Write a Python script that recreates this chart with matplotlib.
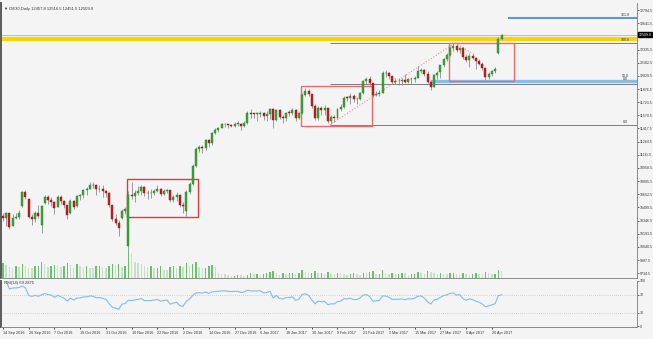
import matplotlib
matplotlib.use("Agg")
import matplotlib.pyplot as plt
import matplotlib.transforms as mtransforms
from matplotlib.patches import Rectangle
import numpy as np
import pandas as pd

plt.rcParams["font.family"] = ["Liberation Sans", "DejaVu Sans"]

# --- data (DE30 daily) ---
holidays = ["2016-10-03", "2016-12-26", "2017-04-14", "2017-04-17"]
dates = pd.bdate_range("2016-09-14", "2017-04-25")
dates = dates[~dates.isin(pd.to_datetime(holidays))]

opens = [
    10400, 10375, 10431, 10290, 10373, 10393, 10520, 10674, 10600, 10394, 10361, 10438, 10300,
    10550, 10619, 10585, 10568, 10510, 10624, 10577, 10523, 10430, 10580, 10520, 10631, 10645, 10701, 10720, 10761, 10757, 10709, 10717, 10690,
    10665, 10526, 10371, 10325, 10380, 10456, 10050, 10650, 10630, 10668, 10694, 10735, 10664, 10663, 10665, 10687, 10713, 10662, 10689, 10700, 10582, 10620,
    10640, 10534, 10460, 10684, 10775, 10986, 11179, 11203, 11190, 11284, 11244, 11366, 11404, 11427, 11464, 11468, 11456, 11449, 11473, 11475, 11451,
    11481, 11599, 11585, 11584, 11585, 11599, 11563, 11583, 11646, 11521, 11629, 11555, 11540, 11599, 11598, 11630, 11545, 11594, 11806, 11848, 11814, 11681,
    11535, 11659, 11627, 11651, 11509, 11549, 11543, 11643, 11666, 11774, 11771, 11793, 11757, 11757, 11827, 11967, 11998, 11947, 11804, 11822,
    11834, 12067, 12060, 12027, 11958, 11966, 11967, 11978, 11963, 11990, 11988, 12009, 12083, 12095, 12052, 11962, 11904, 12040, 12070, 12150, 12225, 12270, 12350,
    12380, 12330, 12350, 12250, 12210, 12260, 12240, 12200, 12170, 12120, 12020, 12050, 12080, 12290, 12457.8,
]
highs = [
    10440, 10450, 10440, 10420, 10440, 10470, 10690, 10700, 10610, 10420, 10460, 10530, 10530,
    10640, 10640, 10620, 10580, 10650, 10650, 10590, 10530, 10600, 10585, 10650, 10660, 10720, 10740, 10800, 10790, 10770, 10760, 10760, 10700,
    10680, 10530, 10420, 10350, 10480, 10510, 10690, 10800, 10700, 10750, 10760, 10750, 10700, 10720, 10720, 10760, 10730, 10710, 10720, 10700, 10650, 10680,
    10660, 10560, 10700, 10790, 11000, 11200, 11220, 11220, 11300, 11300, 11380, 11420, 11440, 11480, 11480, 11470, 11470, 11490, 11500, 11480, 11500,
    11620, 11640, 11600, 11610, 11620, 11610, 11620, 11660, 11660, 11640, 11640, 11580, 11610, 11630, 11650, 11640, 11610, 11830, 11890, 11880, 11820, 11700,
    11680, 11680, 11690, 11660, 11570, 11580, 11660, 11700, 11790, 11790, 11830, 11820, 11780, 11840, 11980, 12020, 12030, 11950, 11850, 11870,
    12090, 12100, 12070, 12030, 12000, 12000, 12010, 12050, 12010, 12020, 12030, 12140, 12120, 12110, 12090, 11970, 12050, 12080, 12160, 12240, 12290, 12380, 12410,
    12405, 12370, 12360, 12280, 12290, 12290, 12250, 12230, 12190, 12130, 12070, 12100, 12130, 12480, 12516.5,
]
lows = [
    10340, 10280, 10250, 10280, 10360, 10360, 10500, 10600, 10380, 10300, 10330, 10380, 10200,
    10540, 10540, 10520, 10420, 10500, 10540, 10490, 10370, 10420, 10480, 10510, 10590, 10610, 10650, 10710, 10730, 10640, 10680, 10620, 10620,
    10500, 10340, 10300, 10170, 10370, 10420, 9990, 10600, 10560, 10640, 10650, 10630, 10600, 10610, 10640, 10680, 10630, 10640, 10670, 10560, 10560, 10580,
    10500, 10440, 10400, 10660, 10760, 10970, 11150, 11130, 11170, 11200, 11220, 11350, 11380, 11420, 11440, 11420, 11430, 11440, 11450, 11400, 11430,
    11470, 11540, 11540, 11510, 11550, 11520, 11510, 11530, 11420, 11510, 11530, 11480, 11500, 11560, 11580, 11500, 11530, 11590, 11800, 11790, 11660, 11520,
    11520, 11570, 11570, 11480, 11470, 11490, 11530, 11620, 11660, 11740, 11700, 11720, 11700, 11750, 11820, 11940, 11920, 11780, 11790, 11800,
    11830, 12020, 11990, 11930, 11930, 11920, 11920, 11950, 11950, 11940, 11960, 12000, 12060, 12030, 11950, 11860, 11900, 11990, 12000, 12130, 12200, 12260, 12320,
    12310, 12290, 12230, 12190, 12130, 12220, 12110, 12160, 12100, 11980, 11990, 12030, 12060, 12280, 12451.5,
]
closes = [
    10375, 10431, 10276, 10373, 10393, 10436, 10674, 10626, 10394, 10361, 10438, 10405, 10511,
    10619, 10585, 10568, 10490, 10624, 10577, 10523, 10414, 10580, 10504, 10631, 10645, 10701, 10710, 10761, 10757, 10709, 10717, 10696, 10665,
    10526, 10371, 10325, 10259, 10456, 10482, 10646, 10630, 10668, 10694, 10735, 10664, 10663, 10665, 10687, 10713, 10662, 10689, 10700, 10582, 10620, 10640,
    10534, 10513, 10684, 10775, 10986, 11179, 11203, 11190, 11284, 11244, 11366, 11404, 11427, 11464, 11468, 11456, 11449, 11473, 11475, 11451, 11481,
    11599, 11585, 11584, 11585, 11599, 11563, 11583, 11646, 11521, 11629, 11555, 11540, 11599, 11598, 11630, 11545, 11594, 11806, 11848, 11814, 11681, 11535,
    11659, 11627, 11651, 11509, 11549, 11543, 11643, 11666, 11774, 11771, 11793, 11757, 11757, 11827, 11967, 11998, 11947, 11804, 11822, 11834,
    12067, 12060, 12027, 11958, 11966, 11967, 11978, 11963, 11990, 11988, 12009, 12083, 12095, 12052, 11962, 11904, 12040, 12064, 12150, 12225, 12270, 12350, 12380,
    12330, 12350, 12250, 12210, 12260, 12240, 12200, 12170, 12120, 12020, 12050, 12080, 12110, 12460, 12509.0,
]
volumes = [  # thousands of ticks
    55, 48, 40, 38, 42, 40, 50, 45, 38, 35, 42, 45, 60,
    50, 40, 45, 48, 42, 40, 45, 55, 48, 38, 52, 45, 40, 44, 38, 36, 42, 45, 40, 38,
    45, 52, 46, 50, 40, 45, 100, 92, 60, 55, 50, 42, 40, 44, 36, 38, 42, 30, 28, 40, 44, 38,
    45, 40, 55, 42, 50, 58, 40, 35, 38, 45, 48, 40, 18, 15, 14, 12, 8, 9, 11, 10, 7,
    12, 18, 15, 16, 12, 14, 18, 22, 25, 18, 12, 20, 15, 18, 20, 16, 18, 28, 22, 17, 20, 25,
    18, 20, 16, 22, 15, 14, 19, 17, 14, 12, 16, 18, 14, 10, 20, 18, 22, 25, 14, 16,
    28, 20, 16, 18, 14, 15, 19, 17, 12, 14, 16, 22, 20, 14, 24, 22, 18, 16, 20, 15, 14, 17, 18,
    16, 14, 18, 15, 12, 14, 18, 15, 13, 22, 17, 14, 16, 30, 24,
]

# drawn objects (price levels / boxes, in bars and price)
gold_level = 12452
blue_level_top = 12701
blue_level_low = 11964
fib_low, fib_high = 11460, 12410
fib_start, fib_end = 101.6, 140.5
boxes = [(38.5, 10389, 60.6, 10831), (92.6, 11447, 114.7, 11911), (138.6, 11969, 158.8, 12411)]
rsi_label = "RSI(14) 69.2875"

o = np.array(opens, float); h = np.array(highs, float)
l = np.array(lows, float); c = np.array(closes, float)
v = np.array(volumes, float)
x = np.arange(len(c))

# RSI(14), Wilder smoothing
delta = pd.Series(c).diff()
gain = delta.clip(lower=0).ewm(alpha=1/14, adjust=False).mean()
loss = (-delta.clip(upper=0)).ewm(alpha=1/14, adjust=False).mean()
rsi = 100 - 100 / (1 + gain / loss)

BG = "#f4f4f4"
W, H = 653, 339
fig = plt.figure(figsize=(W/100, H/100), dpi=100)
fig.patch.set_facecolor(BG)

ax = fig.add_axes([1/W, 61/H, 636/W, 275/H])
axv = ax.twinx()
axr = fig.add_axes([1/W, 12/H, 636/W, 46/H], sharex=ax)

for a in (ax, axr):
    a.set_facecolor(BG)
    for s in a.spines.values():
        s.set_color("#8a8a8a"); s.set_linewidth(0.7)
    a.spines["left"].set_color("#5a5a5a"); a.spines["left"].set_linewidth(1.4)
    a.spines["top"].set_visible(False)
axv.set_axis_off()

# volumes at the bottom of the price window
vcol = ["#6cbf6c" if i == 0 or v[i] >= v[i-1] else "#c4e3c4" for i in range(len(v))]
axv.bar(x, v, width=0.45, color=vcol, zorder=1)
axv.set_ylim(0, 1000)
ax.set_zorder(axv.get_zorder() + 1)
ax.patch.set_visible(False)
axv.patch.set_visible(False)

# horizontal objects
xmax = 197.1
ax.axhline(c[-1], color="#b5b5b5", lw=0.6, zorder=1)
ax.axhline(gold_level, color="#ffd200", lw=3.0, zorder=1)
ax.hlines(blue_level_top, 157, xmax, color="#5b9bd5", lw=1.5, zorder=1)
ax.hlines(blue_level_low, 132.7, xmax, color="#86bde8", lw=2.4, zorder=1)
for pct in (0.0, 0.5, 1.0):
    ax.hlines(fib_low + pct*(fib_high - fib_low), fib_start, xmax, color="#7d7d7d", lw=0.7, zorder=1)
ax.plot([fib_start, fib_end], [fib_low, fib_high], ls=":", color="#f08a8a", lw=0.8, zorder=1)
ax.plot([fib_end, 146], [fib_high, 12290], ls=":", color="#f08a8a", lw=0.8, zorder=1)

lab = dict(fontsize=2.6, color="#333333", ha="center", va="bottom", zorder=5)
ax.text(193.5, blue_level_top + 10, "161.8", **lab)
ax.text(193.5, fib_high + 10, "100.0", **lab)
ax.text(193.5, blue_level_low + 45, "50.0", **lab)
ax.text(193.5, blue_level_low + 5, "0.0", **lab)
ax.text(193.5, fib_low + 10, "0.0", **lab)

for i, (x0, y0, x1, y1) in enumerate(boxes):
    ax.add_patch(Rectangle((x0, y0), x1 - x0, y1 - y0, fill=False,
                           ec="#e53935" if i == 0 else "#ee6a6a", lw=1.0, zorder=2))

# candles
up = c >= o
ax.vlines(x, l, h, color="#8c8c8c", lw=0.6, zorder=3)
body = np.maximum(np.abs(c - o), 8)
ax.bar(x, body, bottom=np.minimum(o, c), width=0.62,
       color=np.where(up, "#3aa53a", "#c81e1e"),
       edgecolor=np.where(up, "#2b7d2b", "#8e1414"), lw=0.3, zorder=4)

ax.set_xlim(-0.6, xmax)
ax.set_ylim(9680, 12876)
ticks = 9734.5 + 153*np.arange(21)
ticks = ticks[np.abs(ticks - c[-1]) > 40]
ax.yaxis.tick_right()
ax.set_yticks(ticks)
ax.set_yticklabels([f"{t:.1f}" for t in ticks])
ax.tick_params(axis="y", labelsize=2.6, length=1.2, width=0.5, pad=0.6, colors="#333333")
ax.tick_params(axis="x", bottom=False, labelbottom=False)

trans = mtransforms.blended_transform_factory(ax.transAxes, ax.transData)
ax.text(1.0025, c[-1], f"{c[-1]:.1f}", transform=trans, fontsize=2.6, color="white",
        va="center", ha="left", zorder=6,
        bbox=dict(boxstyle="square,pad=0.1", fc="black", ec="black"))

ax.text(0.004, 0.985, f"\u25bc DE30,Daily {o[-1]:.1f} {h[-1]:.1f} {l[-1]:.1f} {c[-1]:.1f}",
        transform=ax.transAxes, fontsize=3.0, color="#333333", va="top", ha="left")

# RSI window
axr.plot(x, rsi, color="#7fbdf0", lw=0.8)
for lv in (30, 70):
    axr.axhline(lv, color="#b0b0b0", lw=0.5, ls=(0, (1, 2)))
axr.set_ylim(-2.2, 100)
axr.yaxis.tick_right()
axr.set_yticks([0, 30, 70, 100])
axr.set_yticklabels(["0", "30", "70", "100"])
axr.tick_params(axis="y", labelsize=2.6, length=1.2, width=0.5, pad=0.6, colors="#333333")
axr.text(0.004, 0.99, rsi_label, transform=axr.transAxes, fontsize=3.0,
         color="#333333", va="top", ha="left")

tick_idx = x[::8]
axr.set_xticks(tick_idx)
axr.set_xticklabels([f"{dates[i].day} {dates[i]:%b %Y}" for i in tick_idx],
                    ha="left", fontsize=2.7, color="#333333")
axr.tick_params(axis="x", length=1.5, width=0.5, pad=1.5)

fig.savefig("out.png", dpi=100, facecolor=BG)
